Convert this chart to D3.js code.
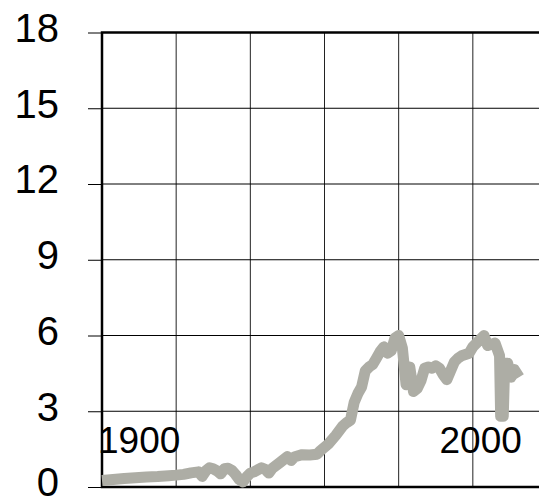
<!DOCTYPE html>
<html lang="en">
	<head>
		<meta charset="utf-8">
		<title>Line chart 1900-2012</title>
		<script src="https://cdn.jsdelivr.net/npm/d3@7"></script>
		<style type="text/css">
			body {
				margin: 0;
				background: #fff;
			}
			text {
				font-family: "Liberation Sans", Arial, sans-serif;
			}
		</style>
	</head>
	<body>
		<script>

			//Data
			var years = [1900, 1903, 1906, 1909, 1912, 1915, 1918, 1920, 1922, 1924,
				1926, 1927, 1928, 1929, 1930, 1931, 1932, 1933, 1934, 1935,
				1936, 1937, 1938, 1939, 1940, 1941, 1943, 1944, 1945, 1946,
				1948, 1950, 1951, 1952, 1954, 1956, 1958, 1959, 1961, 1963,
				1965, 1966, 1967, 1968, 1969, 1970, 1971, 1972, 1973, 1974,
				1975, 1976, 1977, 1978, 1979, 1980, 1981, 1982, 1983, 1984,
				1985, 1986, 1987, 1988, 1989, 1990, 1991, 1992, 1993, 1994,
				1995, 1996, 1997, 1998, 1999, 2000, 2001, 2002, 2003, 2004,
				2005, 2006, 2007.2, 2007.5, 2008.2, 2008.6, 2009.4, 2010.3, 2011.2, 2012.5];
			var values = [0.26, 0.30, 0.34, 0.37, 0.40, 0.42, 0.45, 0.47, 0.50, 0.56,
				0.60, 0.42, 0.64, 0.76, 0.72, 0.64, 0.52, 0.72, 0.74, 0.66,
				0.50, 0.30, 0.20, 0.40, 0.55, 0.60, 0.76, 0.70, 0.55, 0.75,
				0.97, 1.20, 1.05, 1.20, 1.28, 1.27, 1.30, 1.45, 1.70, 2.04,
				2.43, 2.55, 2.65, 3.35, 3.70, 3.96, 4.60, 4.75, 4.85, 5.10,
				5.36, 5.55, 5.30, 5.40, 5.90, 6.00, 5.50, 4.05, 4.75, 3.78,
				3.90, 4.20, 4.70, 4.75, 4.70, 4.80, 4.70, 4.45, 4.25, 4.60,
				4.95, 5.10, 5.20, 5.25, 5.30, 5.55, 5.70, 5.85, 6.00, 5.60,
				5.65, 5.70, 5.20, 2.80, 2.80, 4.90, 4.90, 4.35, 4.65, 4.35];
			var yTicks = [0, 3, 6, 9, 12, 15, 18];
			var xGrid = [1920, 1940, 1960, 1980, 2000];
			var xLabels = [1900, 2000];

			var w = 539;
			var h = 504;

			var xScale = d3.scaleLinear()
				.domain([1900, 2020])
				.range([102, 547]);

			var yScale = d3.scaleLinear()
				.domain([0, 18])
				.range([487, 32.5]);

			var svg = d3.select("body")
				.append("svg")
				.attr("width", w)
				.attr("height", h);

			//Vertical gridlines
			svg.selectAll("line.vgrid")
				.data(xGrid)
				.enter()
				.append("line")
				.attr("class", "vgrid")
				.attr("x1", function(d) { return xScale(d); })
				.attr("x2", function(d) { return xScale(d); })
				.attr("y1", yScale(18))
				.attr("y2", yScale(0))
				.attr("stroke", "#222")
				.attr("stroke-width", 1);

			//Y axis with horizontal gridlines
			var yAxis = d3.axisLeft(yScale)
				.tickValues(yTicks)
				.tickSize(14)
				.tickPadding(29);

			var gy = svg.append("g")
				.attr("transform", "translate(" + xScale(1900) + ",0)")
				.call(yAxis);

			gy.select(".domain").remove();
			gy.selectAll(".tick line")
				.attr("stroke", "#000");
			gy.selectAll(".tick text")
				.attr("fill", "#000")
				.attr("dy", "0.22em")
				.style("font-size", "40px");

			svg.selectAll("line.hgrid")
				.data(yTicks)
				.enter()
				.append("line")
				.attr("class", "hgrid")
				.attr("x1", xScale(1900))
				.attr("x2", xScale(2020))
				.attr("y1", function(d) { return yScale(d); })
				.attr("y2", function(d) { return yScale(d); })
				.attr("stroke", "#000")
				.attr("stroke-width", 1);

			//Frame: top, left, bottom
			svg.append("path")
				.attr("d", "M" + xScale(2020) + "," + yScale(18) +
					"H" + xScale(1900) + "V" + yScale(0) + "H" + xScale(2020))
				.attr("fill", "none")
				.attr("stroke", "#000")
				.attr("stroke-width", 2.5);

			//X labels inside the plot
			svg.selectAll("text.xlab")
				.data(xLabels)
				.enter()
				.append("text")
				.attr("class", "xlab")
				.attr("x", function(d) { return d === 1900 ? xScale(d) - 4 : xScale(d) + 49; })
				.attr("y", 453)
				.attr("text-anchor", function(d) { return d === 1900 ? "start" : "end"; })
				.style("font-size", "37px")
				.attr("fill", "#000")
				.text(function(d) { return d; });

			//Line
			var line = d3.line()
				.x(function(d, i) { return xScale(years[i]); })
				.y(function(d) { return yScale(d); });

			svg.append("path")
				.datum(values)
				.attr("d", line)
				.attr("fill", "none")
				.attr("stroke", "#adada5")
				.attr("stroke-width", 11)
				.attr("stroke-linejoin", "round")
				.attr("stroke-linecap", "butt");

		</script>
	</body>
</html>
